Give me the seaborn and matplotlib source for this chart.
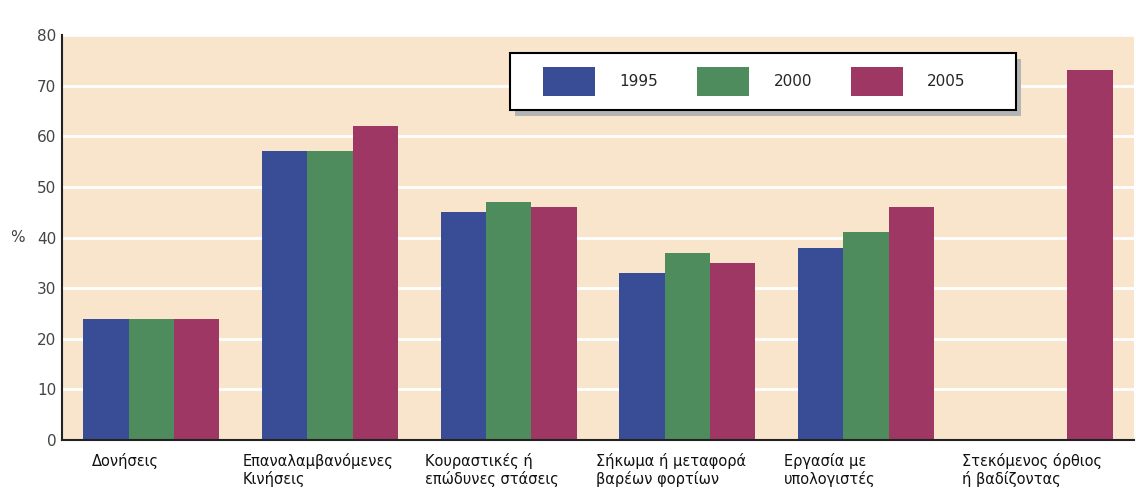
import numpy as np
import pandas as pd
import matplotlib
matplotlib.use("Agg")
import matplotlib.pyplot as plt
from matplotlib.patches import Rectangle
import seaborn as sns

categories = [
    "Δονήσεις",
    "Επαναλαμβανόμενες\nΚινήσεις",
    "Κουραστικές ή\nεπώδυνες στάσεις",
    "Σήκωμα ή μεταφορά\nβαρέων φορτίων",
    "Εργασία με\nυπολογιστές",
    "Στεκόμενος όρθιος\nή βαδίζοντας",
]
years = ["1995", "2000", "2005"]
v1995 = [24, 57, 45, 33, 38, np.nan]
v2000 = [24, 57, 47, 37, 41, np.nan]
v2005 = [24, 62, 46, 35, 46, 73]
colors = ["#394d96", "#4e8c5e", "#9e3764"]

df = pd.DataFrame({
    "cat": categories * 3,
    "year": [y for y in years for _ in categories],
    "val": v1995 + v2000 + v2005,
})

sns.set_style("white")
plt.rcParams["font.family"] = ["DejaVu Sans"]

fig = plt.figure(figsize=(11.36, 4.88), dpi=100)
ax = fig.add_axes([62 / 1136, 48 / 488, 1072 / 1136, 405 / 488])
ax.set_facecolor("#f8e5cc")

sns.barplot(data=df, x="cat", y="val", hue="year", palette=colors,
            width=0.76, gap=0, ax=ax, saturation=1, linewidth=0)

ax.set_ylim(0, 80)
ax.set_xlim(-0.5, len(categories) - 0.5)
ax.set_yticks(range(0, 81, 10))
for y in range(10, 81, 10):
    ax.axhline(y, color="white", lw=2, zorder=0.5)
ax.set_axisbelow(True)

ax.set_xticks(np.arange(-0.5, len(categories), 1.0))
ax.set_xticklabels([])
ax.tick_params(axis="x", direction="inout", length=8, width=1.2, color="#222222")
ax.tick_params(axis="y", direction="out", length=3, width=1, color="#222222",
               labelsize=11, labelcolor="#444444", pad=1)

for s in ["top", "right"]:
    ax.spines[s].set_visible(False)
for s in ["left", "bottom"]:
    ax.spines[s].set_color("#222222")
    ax.spines[s].set_linewidth(1.5)

offsets = [0.17, 0.01, 0.03, -0.01, 0.04, 0.04]
for i, lab in enumerate(categories):
    ax.text(i - 0.5 + offsets[i], -2.6, lab, ha="left", va="top",
            fontsize=10.5, color="#111111", linespacing=1.12, clip_on=False)

ax.set_xlabel("")
ax.set_ylabel("%", rotation=0, fontsize=11, color="#444444", labelpad=14, va="center")

# legend box with drop shadow, drawn by hand
ax.add_patch(Rectangle((0.4226, 0.800), 0.472, 0.1407, transform=ax.transAxes,
                       facecolor="#b4b4b4", edgecolor="none", zorder=5))
ax.add_patch(Rectangle((0.4179, 0.8148), 0.472, 0.1407, transform=ax.transAxes,
                       facecolor="white", edgecolor="black", lw=1.5, zorder=6))

leg = ax.legend(loc="center left", bbox_to_anchor=(0.4487, 0.885), ncol=3,
                frameon=False, fontsize=11,
                handlelength=3.4, handleheight=2.5, columnspacing=2.55,
                handletextpad=1.6, borderpad=0, borderaxespad=0, title=None)
leg.set_zorder(7)

fig.savefig("out.png", dpi=100, facecolor="white")
